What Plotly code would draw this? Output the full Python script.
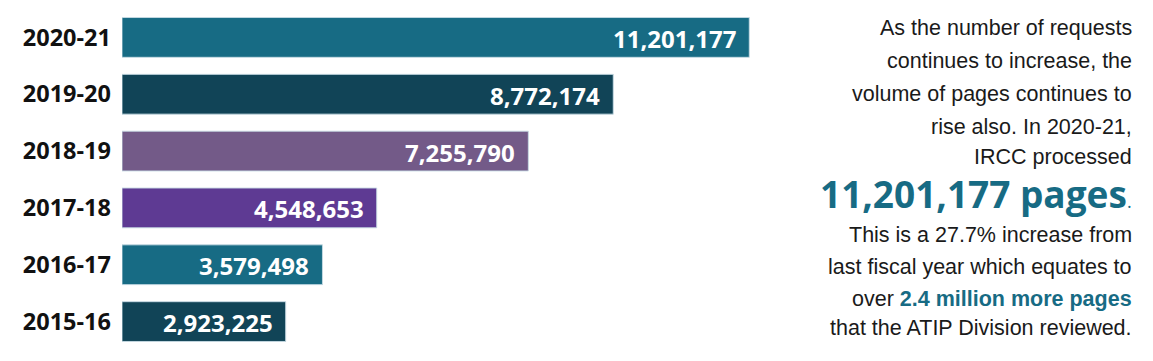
import plotly.graph_objects as go

years = ["2020-21", "2019-20", "2018-19", "2017-18", "2016-17", "2015-16"]
pages = [11201177, 8772174, 7255790, 4548653, 3579498, 2923225]
colors = ["#176B84", "#114457", "#735A88", "#5E3A93", "#176B84", "#114457"]
value_labels = [f"{v:,}" for v in pages]

text_lines = [
    "As the number of requests",
    "continues to increase, the",
    "volume of pages continues to",
    "rise also. In 2020-21,",
    "IRCC processed",
]
big_line = "11,201,177 pages"
text_lines2 = [
    "This is a 27.7% increase from",
    "last fiscal year which equates to",
    "over <b><span style='color:#176B84'>2.4 million more pages</span></b>",
    "that the ATIP Division reviewed.",
]

W, H = 1153, 361
ML, MR, MT, MB = 122, 0, 8.6, 11.4
PW = W - ML - MR
PH = H - MT - MB
px_per_unit = 56.0 / 1e6
xmax = PW / px_per_unit

fig = go.Figure(go.Bar(
    x=pages, y=years, orientation="h",
    marker=dict(color=colors, line=dict(color="rgba(200,220,228,0.9)", width=1)),
    hoverinfo="skip",
))

def px(xp):
    return (xp - ML) / PW

def py(yp):
    return 1 - (yp - MT) / PH

annotations = []
for v, lab, yr in zip(pages, value_labels, years):
    annotations.append(dict(text=f"<b>{lab}</b>", x=v, y=yr, xref="x", yref="y",
                            xanchor="right", yanchor="middle", xshift=-11, yshift=-1,
                            showarrow=False,
                            font=dict(family="Open Sans", size=24, color="white")))

body_font = dict(family="Liberation Sans", size=21.5, color="#1a1a1a")
ys1 = [28, 61, 94, 127, 157]
for t, y in zip(text_lines, ys1):
    annotations.append(dict(text=t, x=px(1134), y=py(y), xref="paper", yref="paper",
                            xanchor="right", yanchor="middle", showarrow=False, font=body_font))
annotations.append(dict(text=f"<b>{big_line}</b><span style='font-size:18px;color:#176B84'>.</span>",
                        x=px(1134), y=py(193), xref="paper", yref="paper",
                        xanchor="right", yanchor="middle", showarrow=False,
                        font=dict(family="Open Sans", size=37, color="#176B84")))
ys2 = [235, 267, 299, 328]
for t, y in zip(text_lines2, ys2):
    annotations.append(dict(text=t, x=px(1134), y=py(y), xref="paper", yref="paper",
                            xanchor="right", yanchor="middle", showarrow=False, font=body_font))

fig.update_layout(
    width=W, height=H,
    margin=dict(l=ML, r=MR, t=MT, b=MB, pad=0),
    paper_bgcolor="white", plot_bgcolor="white",
    bargap=0.3, showlegend=False,
    xaxis=dict(range=[0, xmax], visible=False, fixedrange=True),
    yaxis=dict(autorange="reversed", showgrid=False, zeroline=False, showline=False,
               ticks="", ticklabelstandoff=10, fixedrange=True,
               tickfont=dict(family="Open Sans", size=23.5, color="#111111", weight="bold")),
    annotations=annotations,
)

fig.write_html("out.html", config={"displayModeBar": False},
               post_script="document.body.style.margin='0px';")
